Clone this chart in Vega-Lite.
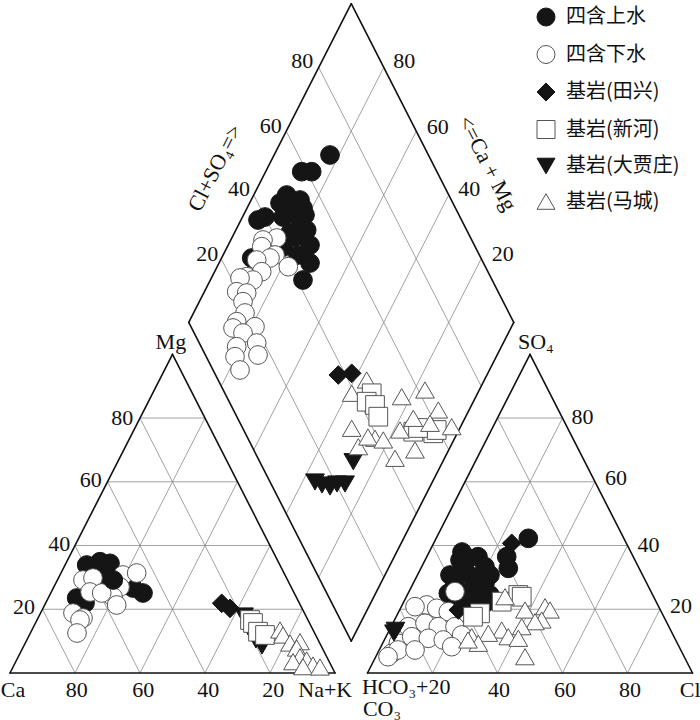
{
"$schema": "https://vega.github.io/schema/vega-lite/v6.json",
"width": 700, "height": 720, "autosize": {"type": "none"}, "padding": 0,
"background": "white",
"config": {"view": {"stroke": null},
 "legend": {"labelFont": "Noto Sans CJK SC", "labelFontSize": 20, "labelColor": "#111", "symbolSize": 324, "rowPadding": 15.5, "labelOffset": 10, "symbolStrokeWidth": 1, "padding": 0, "labelLimit": 300}},
"datasets": {
"grid": [
 {"x":10,"y":17.321,"x2":90,"y2":17.321},{"x":20,"y":0,"x2":60,"y2":69.282},{"x":80,"y":0,"x2":40,"y2":69.282},
 {"x":20,"y":34.641,"x2":80,"y2":34.641},{"x":40,"y":0,"x2":70,"y2":51.962},{"x":60,"y":0,"x2":30,"y2":51.962},
 {"x":30,"y":51.962,"x2":70,"y2":51.962},{"x":60,"y":0,"x2":80,"y2":34.641},{"x":40,"y":0,"x2":20,"y2":34.641},
 {"x":40,"y":69.282,"x2":60,"y2":69.282},{"x":80,"y":0,"x2":90,"y2":17.321},{"x":20,"y":0,"x2":10,"y2":17.321},
 {"x":120,"y":17.321,"x2":200,"y2":17.321},{"x":130,"y":0,"x2":170,"y2":69.282},{"x":190,"y":0,"x2":150,"y2":69.282},
 {"x":130,"y":34.641,"x2":190,"y2":34.641},{"x":150,"y":0,"x2":180,"y2":51.962},{"x":170,"y":0,"x2":140,"y2":51.962},
 {"x":140,"y":51.962,"x2":180,"y2":51.962},{"x":170,"y":0,"x2":190,"y2":34.641},{"x":150,"y":0,"x2":130,"y2":34.641},
 {"x":150,"y":69.282,"x2":170,"y2":69.282},{"x":190,"y":0,"x2":200,"y2":17.321},{"x":130,"y":0,"x2":120,"y2":17.321},
 {"x":95,"y":25.981,"x2":145,"y2":112.583},{"x":115,"y":25.981,"x2":65,"y2":112.583},
 {"x":85,"y":43.301,"x2":135,"y2":129.904},{"x":125,"y":43.301,"x2":75,"y2":129.904},
 {"x":75,"y":60.622,"x2":125,"y2":147.224},{"x":135,"y":60.622,"x2":85,"y2":147.224},
 {"x":65,"y":77.942,"x2":115,"y2":164.545},{"x":145,"y":77.942,"x2":95,"y2":164.545}
],
"frame": [
 {"x":0,"y":0,"x2":100,"y2":0},{"x":100,"y":0,"x2":50,"y2":86.603},{"x":50,"y":86.603,"x2":0,"y2":0},
 {"x":110,"y":0,"x2":210,"y2":0},{"x":210,"y":0,"x2":160,"y2":86.603},{"x":160,"y":86.603,"x2":110,"y2":0},
 {"x":105,"y":8.66,"x2":55,"y2":95.263},{"x":55,"y":95.263,"x2":105,"y2":181.865},{"x":105,"y":181.865,"x2":155,"y2":95.263},{"x":155,"y":95.263,"x2":105,"y2":8.66}
],
"pts": [
 {"g":"四含上水","x":23.6,"y":29.35},{"g":"四含上水","x":27.69,"y":30.24},{"g":"四含上水","x":30.77,"y":29.81},{"g":"四含上水","x":26.15,"y":27.99},{"g":"四含上水","x":33.85,"y":25.82},{"g":"四含上水","x":28.62,"y":25.27},{"g":"四含上水","x":20.52,"y":20.38},{"g":"四含上水","x":23.08,"y":19.02},{"g":"四含上水","x":40.92,"y":21.74},{"g":"四含上水","x":37.85,"y":23.1},
 {"g":"四含下水","x":22.46,"y":25.27},{"g":"四含下水","x":25.54,"y":25.82},{"g":"四含下水","x":34.77,"y":26.63},{"g":"四含下水","x":38.98,"y":27.17},{"g":"四含下水","x":24.62,"y":22.01},{"g":"四含下水","x":33.85,"y":23.37},{"g":"四含下水","x":31.69,"y":20.65},{"g":"四含下水","x":32.83,"y":18.48},{"g":"四含下水","x":28.22,"y":21.74},{"g":"四含下水","x":19.38,"y":16.3},{"g":"四含下水","x":22.46,"y":14.95},{"g":"四含下水","x":21.54,"y":14.4},{"g":"四含下水","x":20.62,"y":10.87},
 {"g":"四含上水","x":31.78,"y":25.27},
 {"g":"基岩(大贾庄)","x":72.0,"y":15.49},{"g":"基岩(大贾庄)","x":73.85,"y":11.68},{"g":"基岩(大贾庄)","x":75.69,"y":8.97},{"g":"基岩(大贾庄)","x":77.54,"y":7.34},
 {"g":"基岩(田兴)","x":65.14,"y":18.94},{"g":"基岩(田兴)","x":67.69,"y":17.58},
 {"g":"基岩(新河)","x":73.85,"y":14.4},{"g":"基岩(新河)","x":74.77,"y":13.59},{"g":"基岩(新河)","x":76.31,"y":11.22},{"g":"基岩(新河)","x":78.46,"y":10.33},
 {"g":"基岩(马城)","x":83.08,"y":11.68},{"g":"基岩(马城)","x":84.0,"y":10.33},{"g":"基岩(马城)","x":86.15,"y":8.15},{"g":"基岩(马城)","x":89.23,"y":8.51},{"g":"基岩(马城)","x":88.22,"y":6.79},{"g":"基岩(马城)","x":89.23,"y":4.43},{"g":"基岩(马城)","x":91.29,"y":3.53},{"g":"基岩(马城)","x":87.08,"y":3.07},{"g":"基岩(马城)","x":93.23,"y":2.17},{"g":"基岩(马城)","x":90.15,"y":1.71},{"g":"基岩(马城)","x":95.38,"y":1.63},
 {"g":"四含上水","x":98.46,"y":140.76},{"g":"四含上水","x":89.75,"y":136.22},{"g":"四含上水","x":92.83,"y":136.22},{"g":"四含上水","x":85.14,"y":129.89},{"g":"四含上水","x":89.23,"y":128.53},{"g":"四含上水","x":83.08,"y":127.72},{"g":"四含上水","x":87.69,"y":125.82},{"g":"四含上水","x":90.15,"y":126.36},{"g":"四含上水","x":90.77,"y":124.46},{"g":"四含上水","x":78.46,"y":123.91},{"g":"四含上水","x":84.0,"y":123.91},{"g":"四含上水","x":89.23,"y":123.1},{"g":"四含上水","x":76.31,"y":123.1},{"g":"四含上水","x":91.29,"y":120.38},{"g":"四含上水","x":86.15,"y":119.57},{"g":"四含上水","x":87.69,"y":118.48},{"g":"四含上水","x":92.31,"y":116.3},{"g":"四含上水","x":84.0,"y":115.76},{"g":"四含上水","x":88.62,"y":113.59},{"g":"四含上水","x":92.31,"y":111.41},{"g":"四含上水","x":74.37,"y":112.77},{"g":"四含上水","x":90.15,"y":106.79},
 {"g":"四含下水","x":82.06,"y":118.21},{"g":"四含下水","x":77.85,"y":117.66},{"g":"四含下水","x":77.45,"y":115.84},{"g":"四含下水","x":81.54,"y":113.59},{"g":"四含下水","x":80.0,"y":112.77},{"g":"四含下水","x":75.91,"y":112.23},{"g":"四含下水","x":85.63,"y":110.41},{"g":"四含下水","x":77.45,"y":109.05},{"g":"四含下水","x":72.83,"y":107.69},{"g":"四含下水","x":74.77,"y":106.79},{"g":"四含下水","x":70.77,"y":107.34},{"g":"四含下水","x":69.75,"y":103.61},{"g":"四含下水","x":72.83,"y":103.26},{"g":"四含下水","x":71.69,"y":100.9},{"g":"四含下水","x":72.31,"y":97.83},{"g":"四含下水","x":69.75,"y":95.46},{"g":"四含下水","x":75.38,"y":94.1},{"g":"四含下水","x":68.62,"y":93.75},{"g":"四含下水","x":71.69,"y":92.39},{"g":"四含下水","x":75.91,"y":89.67},{"g":"四含下水","x":69.75,"y":88.67},{"g":"四含下水","x":69.23,"y":85.95},{"g":"四含下水","x":76.31,"y":86.41},{"g":"四含下水","x":70.77,"y":82.34},
 {"g":"基岩(大贾庄)","x":105.63,"y":57.42},{"g":"基岩(大贾庄)","x":93.85,"y":51.9},{"g":"基岩(大贾庄)","x":96.0,"y":51.09},{"g":"基岩(大贾庄)","x":98.46,"y":50.54},{"g":"基岩(大贾庄)","x":100.62,"y":51.36},{"g":"基岩(大贾庄)","x":103.08,"y":51.36},
 {"g":"基岩(田兴)","x":101.02,"y":80.98},{"g":"基岩(田兴)","x":105.14,"y":81.44},
 {"g":"基岩(马城)","x":109.75,"y":79.62},{"g":"基岩(马城)","x":105.14,"y":76.01},{"g":"基岩(马城)","x":120.52,"y":75.08},{"g":"基岩(马城)","x":127.69,"y":76.9},{"g":"基岩(马城)","x":105.14,"y":66.49},{"g":"基岩(马城)","x":112.31,"y":63.78},{"g":"基岩(马城)","x":107.17,"y":61.49},{"g":"基岩(马城)","x":110.15,"y":64.13},
 {"g":"基岩(新河)","x":111.29,"y":76.01},{"g":"基岩(新河)","x":109.75,"y":73.72},{"g":"基岩(新河)","x":112.31,"y":72.83},{"g":"基岩(新河)","x":113.32,"y":69.65},{"g":"基岩(新河)","x":124.09,"y":65.57},{"g":"基岩(新河)","x":130.25,"y":65.14},{"g":"基岩(新河)","x":131.29,"y":66.03},{"g":"基岩(新河)","x":125.54,"y":66.58},
 {"g":"基岩(马城)","x":124.09,"y":69.21},{"g":"基岩(马城)","x":131.78,"y":71.47},{"g":"基岩(马城)","x":129.23,"y":67.85},{"g":"基岩(马城)","x":135.91,"y":66.93},{"g":"基岩(马城)","x":120.0,"y":66.03},{"g":"基岩(马城)","x":114.86,"y":63.32},{"g":"基岩(马城)","x":118.46,"y":58.34},{"g":"基岩(马城)","x":124.62,"y":60.6},
 {"g":"四含上水","x":159.48,"y":36.6},{"g":"四含上水","x":152.83,"y":31.6},{"g":"四含上水","x":153.32,"y":28.45},{"g":"四含上水","x":141.02,"y":31.17},{"g":"四含上水","x":144.0,"y":31.6},{"g":"四含上水","x":139.08,"y":32.88},{"g":"四含上水","x":146.15,"y":28.89},{"g":"四含上水","x":140.0,"y":27.99},{"g":"四含上水","x":138.46,"y":30.71},{"g":"四含上水","x":135.38,"y":26.63},{"g":"四含上水","x":136.92,"y":24.38},{"g":"四含上水","x":142.06,"y":26.17},{"g":"四含上水","x":146.15,"y":24.38},{"g":"四含上水","x":147.69,"y":26.63},{"g":"四含上水","x":143.08,"y":23.45},{"g":"四含上水","x":134.86,"y":21.66},{"g":"四含上水","x":140.0,"y":21.66},{"g":"四含上水","x":145.14,"y":20.73},{"g":"四含上水","x":147.69,"y":21.2},{"g":"四含上水","x":141.54,"y":19.84},{"g":"四含上水","x":137.94,"y":18.94},{"g":"四含上水","x":146.15,"y":18.94},
 {"g":"四含下水","x":136.92,"y":22.09},{"g":"四含下水","x":128.22,"y":18.48},{"g":"四含下水","x":131.29,"y":17.58},{"g":"四含下水","x":124.62,"y":18.02},{"g":"四含下水","x":134.86,"y":16.66},{"g":"四含下水","x":122.55,"y":12.58},{"g":"四含下水","x":127.69,"y":13.51},{"g":"四含下水","x":131.78,"y":12.58},{"g":"四含下水","x":136.92,"y":12.58},{"g":"四含下水","x":138.98,"y":10.33},{"g":"四含下水","x":119.48,"y":8.07},{"g":"四含下水","x":123.6,"y":9.86},{"g":"四含下水","x":128.71,"y":9.43},{"g":"四含下水","x":133.32,"y":8.97},{"g":"四含下水","x":135.91,"y":7.15},{"g":"四含下水","x":117.45,"y":5.35},{"g":"四含下水","x":119.38,"y":6.25},{"g":"四含下水","x":124.62,"y":6.25},{"g":"四含下水","x":116.31,"y":4.43},
 {"g":"基岩(大贾庄)","x":118.15,"y":10.87},{"g":"基岩(大贾庄)","x":118.6,"y":11.6},
 {"g":"基岩(田兴)","x":154.37,"y":35.24},{"g":"基岩(田兴)","x":137.94,"y":17.12},
 {"g":"基岩(新河)","x":144.62,"y":16.22},{"g":"基岩(新河)","x":142.46,"y":15.3},{"g":"基岩(新河)","x":151.29,"y":19.38},{"g":"基岩(新河)","x":156.4,"y":21.2},{"g":"基岩(新河)","x":157.45,"y":20.73},
 {"g":"基岩(马城)","x":152.31,"y":20.73},{"g":"基岩(马城)","x":158.46,"y":17.12},{"g":"基岩(马城)","x":164.62,"y":18.02},{"g":"基岩(马城)","x":166.15,"y":17.12},{"g":"基岩(马城)","x":163.6,"y":14.4},{"g":"基岩(马城)","x":161.54,"y":13.94},{"g":"基岩(马城)","x":157.45,"y":12.58},{"g":"基岩(马城)","x":151.29,"y":11.68},{"g":"基岩(马城)","x":147.17,"y":10.79},{"g":"基岩(马城)","x":142.06,"y":9.86},{"g":"基岩(马城)","x":144.09,"y":8.07},{"g":"基岩(马城)","x":140.92,"y":8.97},{"g":"基岩(马城)","x":153.32,"y":9.86},{"g":"基岩(马城)","x":156.4,"y":9.43},{"g":"基岩(马城)","x":158.46,"y":4.43}
],
"labc": [
 {"t":"Ca","x":0.9,"y":-4.5},{"t":"80","x":20.5,"y":-4.5},{"t":"60","x":41,"y":-4.5},{"t":"40","x":61,"y":-4.5},{"t":"20","x":81,"y":-4.5},{"t":"Na+K","x":97,"y":-4.5},
 {"t":"Mg","x":49.5,"y":90.0},
 {"t":"40","x":150.5,"y":-4.5},{"t":"60","x":170.8,"y":-4.5},{"t":"80","x":190.8,"y":-4.5},{"t":"Cl","x":209.3,"y":-4.5}
],
"labl": [
 {"t":"HCO₃+20","x":108.3,"y":-3.9},{"t":"CO₃","x":108.6,"y":-9.9},{"t":"SO₄","x":156.3,"y":89.9},
 {"t":"80","x":172.8,"y":69.6},{"t":"60","x":183.1,"y":53.0},{"t":"40","x":193.1,"y":34.9},{"t":"20","x":203.1,"y":18.3},
 {"t":"80","x":117.9,"y":166.3},{"t":"60","x":128.2,"y":148.4},{"t":"40","x":137.9,"y":131.5},{"t":"20","x":148.2,"y":113.9}
],
"labr": [
 {"t":"80","x":37.9,"y":69.3},{"t":"60","x":28.2,"y":52.4},{"t":"40","x":18.5,"y":35.05},{"t":"20","x":7.7,"y":18.0},
 {"t":"80","x":93.3,"y":166.3},{"t":"60","x":83.6,"y":148.6},{"t":"40","x":73.85,"y":131.5},{"t":"20","x":64.1,"y":113.9}
]
},
"layer": [
 {"data": {"name": "grid"}, "mark": {"type": "rule", "color": "#8a8a8a", "strokeWidth": 0.8},
  "encoding": {
   "x": {"field": "x", "type": "quantitative", "scale": {"domain": [-3.077, 212.308], "nice": false, "zero": false}, "axis": null},
   "y": {"field": "y", "type": "quantitative", "scale": {"domain": [-12.772, 182.88], "nice": false, "zero": false}, "axis": null},
   "x2": {"field": "x2"}, "y2": {"field": "y2"}}},
 {"data": {"name": "frame"}, "mark": {"type": "rule", "color": "#111", "strokeWidth": 1.6, "strokeCap": "round"},
  "encoding": {
   "x": {"field": "x", "type": "quantitative"}, "y": {"field": "y", "type": "quantitative"},
   "x2": {"field": "x2"}, "y2": {"field": "y2"}}},
 {"data": {"name": "pts"}, "mark": {"type": "point", "filled": true, "opacity": 1, "size": 350, "strokeWidth": 1},
  "encoding": {
   "x": {"field": "x", "type": "quantitative"}, "y": {"field": "y", "type": "quantitative"},
   "shape": {"field": "g", "type": "nominal", "scale": {"domain": ["四含上水","四含下水","基岩(田兴)","基岩(新河)","基岩(大贾庄)","基岩(马城)"], "range": ["circle","circle","diamond","square","triangle-down","triangle-up"]},
     "legend": {"title": null, "orient": "none", "legendX": 536, "legendY": 7}},
   "fill": {"field": "g", "type": "nominal", "scale": {"domain": ["四含上水","四含下水","基岩(田兴)","基岩(新河)","基岩(大贾庄)","基岩(马城)"], "range": ["#151515","#ffffff","#151515","#ffffff","#151515","#ffffff"]},
     "legend": {"title": null, "orient": "none", "legendX": 536, "legendY": 7}},
   "stroke": {"field": "g", "type": "nominal", "scale": {"domain": ["四含上水","四含下水","基岩(田兴)","基岩(新河)","基岩(大贾庄)","基岩(马城)"], "range": ["#151515","#555555","#151515","#555555","#151515","#555555"]},
     "legend": {"title": null, "orient": "none", "legendX": 536, "legendY": 7}}}},
 {"data": {"name": "labc"}, "mark": {"type": "text", "font": "Liberation Serif", "fontSize": 22, "color": "#111", "align": "center", "baseline": "middle"},
  "encoding": {"x": {"field": "x", "type": "quantitative"}, "y": {"field": "y", "type": "quantitative"}, "text": {"field": "t"}}},
 {"data": {"name": "labl"}, "mark": {"type": "text", "font": "Liberation Serif", "fontSize": 22, "color": "#111", "align": "left", "baseline": "middle"},
  "encoding": {"x": {"field": "x", "type": "quantitative"}, "y": {"field": "y", "type": "quantitative"}, "text": {"field": "t"}}},
 {"data": {"name": "labr"}, "mark": {"type": "text", "font": "Liberation Serif", "fontSize": 22, "color": "#111", "align": "right", "baseline": "middle"},
  "encoding": {"x": {"field": "x", "type": "quantitative"}, "y": {"field": "y", "type": "quantitative"}, "text": {"field": "t"}}},
 {"data": {"values": [{"t": "Cl+SO₄=>", "x": 63.1, "y": 137.2}]}, "mark": {"type": "text", "font": "Liberation Serif", "fontSize": 22, "color": "#111", "align": "center", "baseline": "middle", "angle": -63},
  "encoding": {"x": {"field": "x", "type": "quantitative"}, "y": {"field": "y", "type": "quantitative"}, "text": {"field": "t"}}},
 {"data": {"values": [{"t": "<=Ca + Mg", "x": 146.9, "y": 138.5}]}, "mark": {"type": "text", "font": "Liberation Serif", "fontSize": 22, "color": "#111", "align": "center", "baseline": "middle", "angle": 63},
  "encoding": {"x": {"field": "x", "type": "quantitative"}, "y": {"field": "y", "type": "quantitative"}, "text": {"field": "t"}}}
]
}
